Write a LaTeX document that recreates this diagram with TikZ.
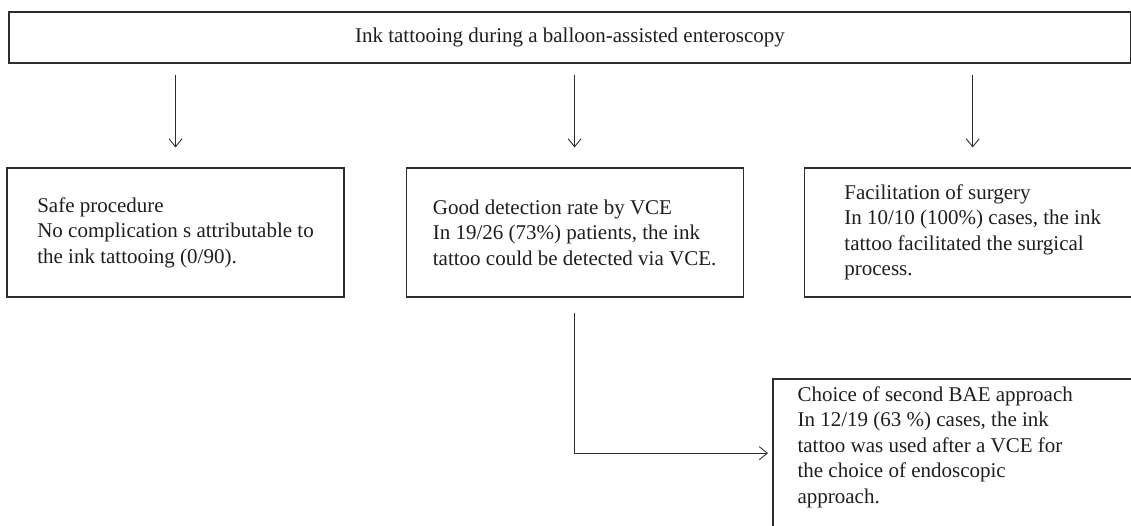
\documentclass[tikz,border=0pt]{standalone}
\usepackage{fontspec}
\setmainfont{Liberation Serif}
\usetikzlibrary{arrows.meta,positioning,calc}
\definecolor{inkline}{RGB}{45,45,45}
\definecolor{inktext}{RGB}{30,30,30}

\begin{document}
\begin{tikzpicture}[x=1pt,y=1pt,
  box/.style={draw=inkline,line width=1.1pt,minimum width=337pt,minimum height=129pt,
              align=left,font=\fontsize{21}{25.5}\selectfont,text=inktext},
  arr/.style={draw=inkline,line width=0.9pt,-{Straight Barb[length=8pt,width=13pt]}}]
  \useasboundingbox (0,0) rectangle (1131,526);
  \node[box,minimum width=1122pt,minimum height=51pt,align=center] (title) at (570,488.5)
      {Ink tattooing during a balloon-assisted enteroscopy};
  \node[box] (safe) at (175.5,293.5)
      {Safe procedure\\No complication s attributable to\\the ink tattooing (0/90).};
  \node[box,right=61pt of safe] (vce)
      {Good detection rate by VCE\\In 19/26 (73\%) patients, the ink\\tattoo could be detected via VCE.};
  \node[box,right=60pt of vce] (surg)
      {Facilitation of surgery\\In 10/10 (100\%) cases, the ink\\tattoo facilitated the surgical\\process.};
  \node[box,draw=none,minimum width=0pt,minimum height=0pt,anchor=north west,
        inner xsep=24pt,inner ysep=7pt] (bae) at (773,147)
      {Choice of second BAE approach\\In 12/19 (63 \%) cases, the ink\\tattoo was used after a VCE for\\the choice of endoscopic\\approach.};
  % open box, runs off the page
  \draw[draw=inkline,line width=1.1pt] ($(bae.north west)+(400,0)$) -- (bae.north west) -- ++(0,-200);
  \foreach \n in {safe,vce,surg}
    \draw[arr,shorten <=11pt,shorten >=20pt] (title.south -| \n.north) -- (\n.north);
  \draw[arr,shorten <=15pt,shorten >=5pt] (vce.south) |- ($(bae.west)+(0,-6)$);
\end{tikzpicture}
\end{document}
